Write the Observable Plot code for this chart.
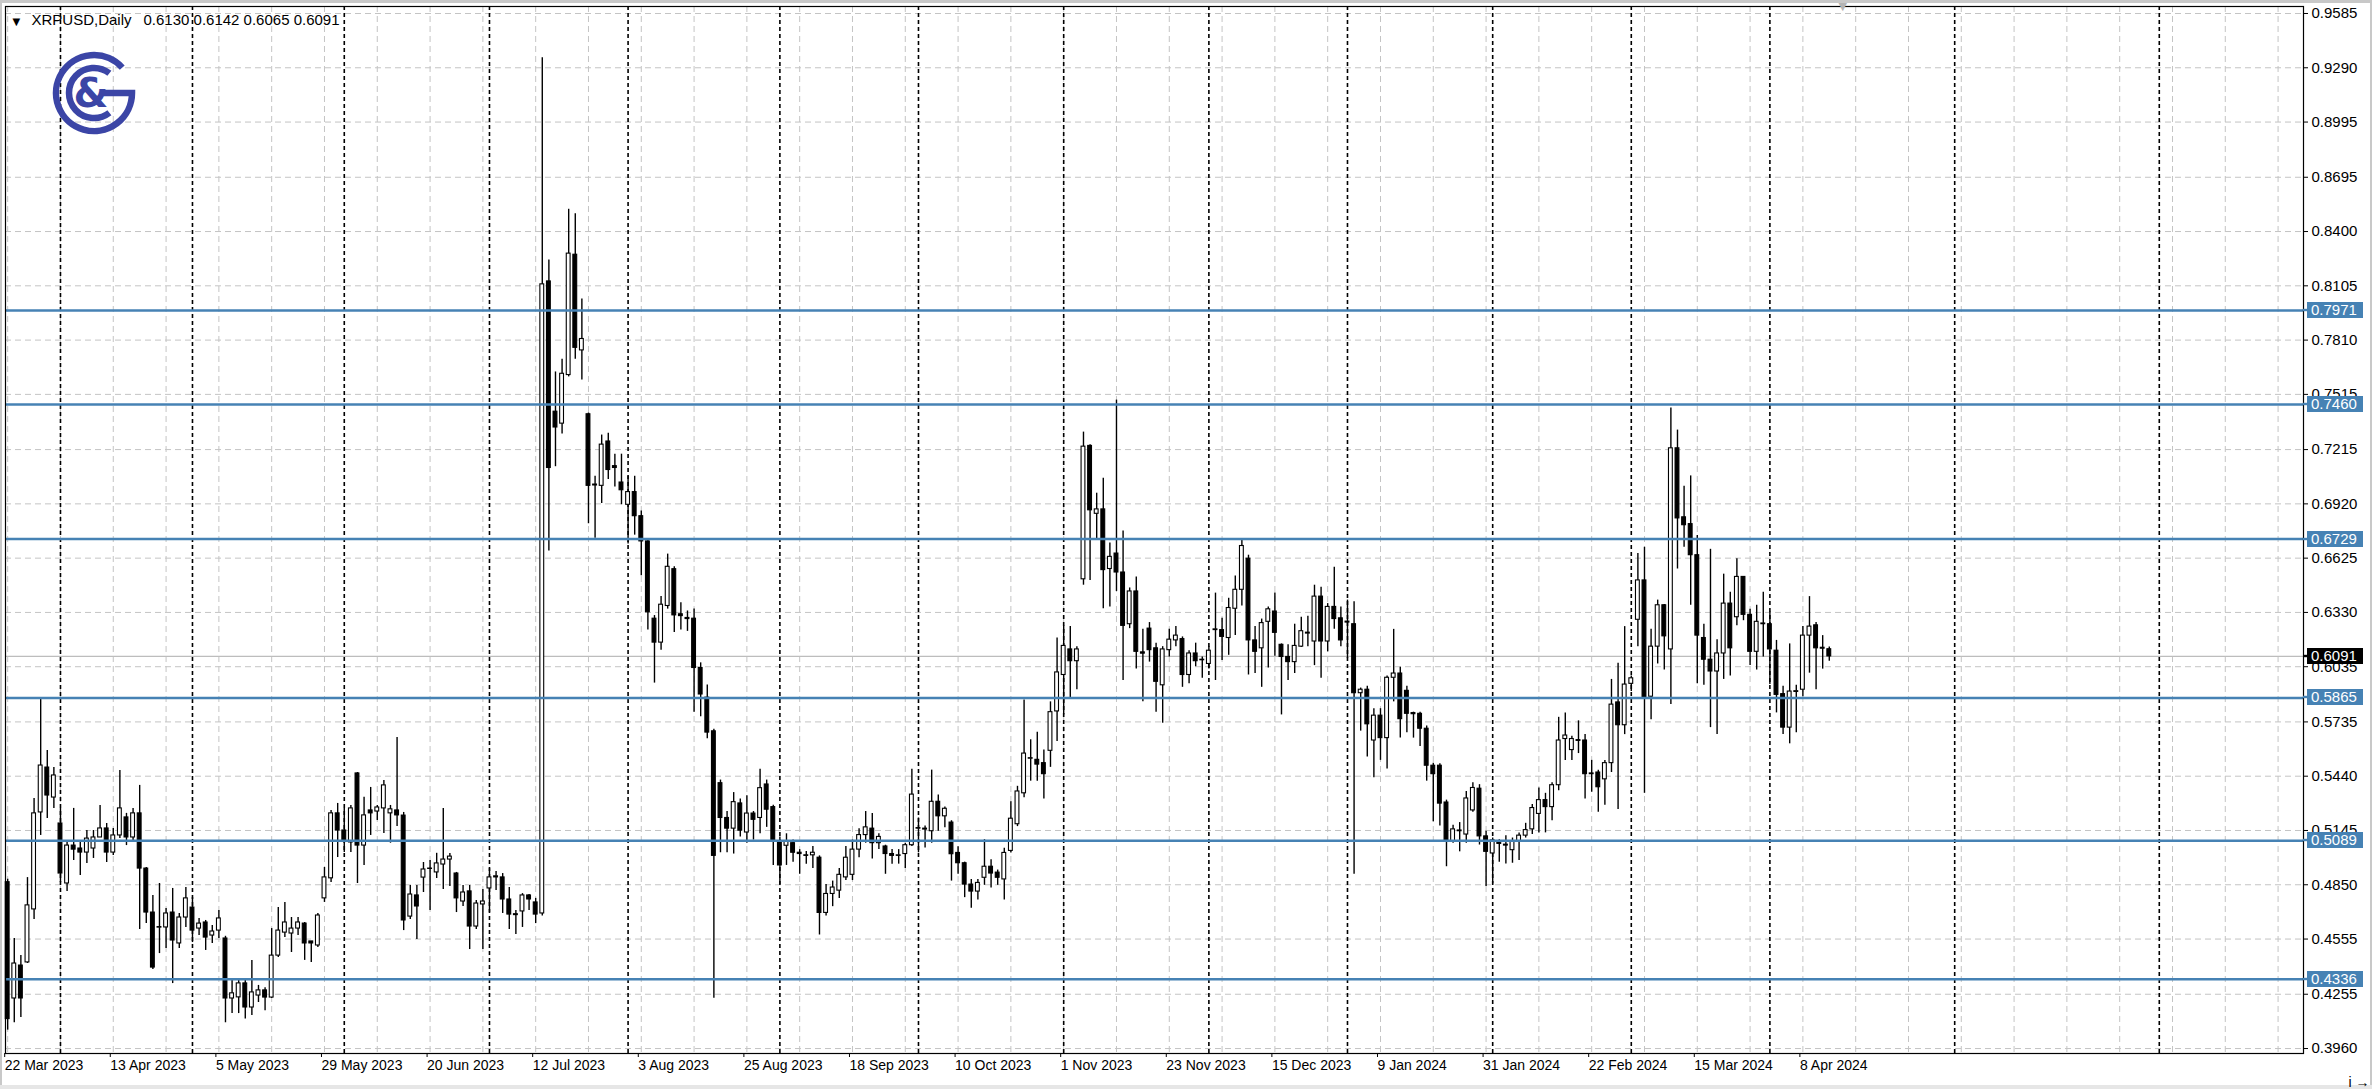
<!DOCTYPE html>
<html>
<head>
<meta charset="utf-8">
<script src="https://cdn.jsdelivr.net/npm/d3@7"></script>
<script src="https://cdn.jsdelivr.net/npm/@observablehq/plot@0.6"></script>
<style>
html, body { margin: 0; padding: 0; background: #fff; overflow: hidden; }
#chart { width: 2372px; height: 1089px; }
</style>
</head>
<body>
<div id="chart"></div>
<script>
// ---- XRPUSD Daily OHLC (bar index 0 = 22 Mar 2023, trading weekdays) ----
const open = [
0.4864,0.4232,0.4411,0.4428,0.4716,0.5243,0.5487,0.5324,0.5183,0.4857,
0.5063,0.5047,0.5025,0.5047,0.5107,0.5156,0.5025,0.5118,0.5216,0.5107,
0.5238,0.4938,0.4699,0.4617,0.4618,0.4699,0.4531,0.4672,0.4726,0.4612,
0.4645,0.4574,0.4601,0.4558,0.4232,0.4238,0.4314,0.4183,0.4248,0.4276,
0.4237,0.4465,0.4590,0.4585,0.4612,0.4639,0.4542,0.4520,0.4776,0.4885,
0.5238,0.5145,0.5080,0.5455,0.5063,0.5254,0.5248,0.5265,0.5238,0.5254,
0.5226,0.4677,0.4792,0.4889,0.4936,0.4917,0.4960,0.4987,0.4911,0.4759,
0.4814,0.4623,0.4743,0.4830,0.4890,0.4890,0.4770,0.4690,0.4705,0.4792,
0.4754,0.4694,0.8129,0.7421,0.7356,0.7620,0.8274,0.7754,0.7407,0.7025,
0.7018,0.7259,0.7125,0.7036,0.6915,0.6984,0.6853,0.6716,0.6296,0.6166,
0.6365,0.6565,0.6320,0.6300,0.6296,0.6028,0.5867,0.5684,0.5402,0.5213,
0.5155,0.5292,0.5134,0.5237,0.5213,0.5395,0.5272,0.5086,0.5062,0.5076,
0.5024,0.5010,0.5010,0.4997,0.4697,0.4800,0.4818,0.4890,0.4904,0.5041,
0.5120,0.5155,0.5076,0.5058,0.5017,0.5007,0.5017,0.5065,0.5155,0.5150,
0.5141,0.5301,0.5222,0.5188,0.5023,0.4967,0.4851,0.4813,0.4888,0.4948,
0.4916,0.4879,0.5034,0.5179,0.5347,0.5535,0.5529,0.5511,0.5578,0.5792,
0.5990,0.6129,0.6065,0.6510,0.7235,0.6866,0.6890,0.6566,0.6650,0.6547,
0.6266,0.6444,0.6113,0.6242,0.6135,0.5934,0.6125,0.6178,0.6185,0.5990,
0.6107,0.6073,0.6050,0.6234,0.6234,0.6191,0.6350,0.6453,0.6622,0.6178,
0.6135,0.6279,0.6335,0.6154,0.6088,0.6060,0.6144,0.6215,0.6172,0.6416,
0.6172,0.6360,0.6298,0.6280,0.6266,0.5891,0.5910,0.5634,0.5769,0.5647,
0.5975,0.5998,0.5904,0.5783,0.5779,0.5698,0.5497,0.5497,0.5297,0.5085,
0.5145,0.5123,0.5254,0.5372,0.5113,0.5020,0.5085,0.5068,0.5038,0.5085,
0.5117,0.5151,0.5235,0.5310,0.5272,0.5391,0.5642,0.5582,0.5636,0.5634,
0.5455,0.5460,0.5423,0.5511,0.5841,0.5717,0.5942,0.6290,0.6504,0.5872,
0.6144,0.6369,0.6129,0.7222,0.6847,0.6810,0.6641,0.6191,0.6073,0.6009,
0.6107,0.6378,0.6304,0.6523,0.6317,0.6116,0.6266,0.6266,0.6122,0.5886,
0.5704,0.5898,0.5910,0.6204,0.6260,0.6138,0.6130];
const high = [
0.4880,0.4558,0.4465,0.4889,0.5319,0.5862,0.5580,0.5487,0.5265,0.5080,
0.5265,0.5090,0.5145,0.5145,0.5281,0.5183,0.5156,0.5471,0.5238,0.5265,
0.5390,0.4944,0.4792,0.4857,0.4721,0.4830,0.4694,0.4835,0.4781,0.4667,
0.4656,0.4628,0.4710,0.4570,0.4340,0.4340,0.4330,0.4439,0.4303,0.4290,
0.4612,0.4727,0.4754,0.4672,0.4672,0.4645,0.4542,0.4694,0.4944,0.5254,
0.5292,0.5265,0.5281,0.5460,0.5325,0.5379,0.5281,0.5417,0.5281,0.5650,
0.5243,0.4846,0.4846,0.4971,0.4982,0.5021,0.5265,0.5020,0.4917,0.4846,
0.4846,0.4764,0.4824,0.4938,0.4922,0.4911,0.4835,0.4710,0.4802,0.4797,
0.4776,0.9345,0.8246,0.7637,0.7706,0.8521,0.8497,0.8033,0.7414,0.7070,
0.7294,0.7304,0.7190,0.7190,0.7070,0.7070,0.6881,0.6726,0.6313,0.6417,
0.6647,0.6578,0.6382,0.6338,0.6348,0.6056,0.5935,0.5695,0.5419,0.5248,
0.5351,0.5316,0.5334,0.5248,0.5478,0.5419,0.5282,0.5110,0.5127,0.5093,
0.5041,0.5031,0.5058,0.5007,0.4852,0.4870,0.4938,0.5058,0.5093,0.5155,
0.5248,0.5237,0.5127,0.5065,0.5041,0.5041,0.5076,0.5478,0.5213,0.5170,
0.5473,0.5338,0.5272,0.5198,0.5057,0.4973,0.4879,0.4879,0.5095,0.4986,
0.4930,0.5048,0.5301,0.5385,0.5854,0.5638,0.5679,0.5582,0.5844,0.6191,
0.6257,0.6253,0.6144,0.7310,0.7241,0.6978,0.7059,0.6707,0.7484,0.6772,
0.6463,0.6523,0.6238,0.6275,0.6163,0.6144,0.6238,0.6253,0.6197,0.6122,
0.6163,0.6088,0.6144,0.6435,0.6298,0.6407,0.6528,0.6721,0.6641,0.6253,
0.6294,0.6360,0.6435,0.6159,0.6154,0.6266,0.6304,0.6309,0.6478,0.6467,
0.6378,0.6575,0.6360,0.6397,0.6388,0.5919,0.5929,0.5807,0.5807,0.5985,
0.6238,0.6032,0.5929,0.5788,0.5788,0.5713,0.5511,0.5507,0.5310,0.5173,
0.5188,0.5357,0.5404,0.5394,0.5141,0.5104,0.5095,0.5117,0.5104,0.5132,
0.5184,0.5286,0.5376,0.5347,0.5404,0.5760,0.5784,0.5657,0.5741,0.5666,
0.5526,0.5473,0.5526,0.5966,0.6054,0.6253,0.5985,0.6650,0.6684,0.6238,
0.6397,0.6373,0.7441,0.7321,0.7016,0.7072,0.6748,0.6266,0.6673,0.6182,
0.6538,0.6440,0.6622,0.6523,0.6347,0.6369,0.6440,0.6332,0.6178,0.5929,
0.6159,0.5934,0.6253,0.6416,0.6275,0.6204,0.6142];
const low = [
0.4060,0.4100,0.4128,0.4422,0.4661,0.5118,0.5210,0.5265,0.4862,0.4813,
0.4982,0.4900,0.4966,0.4993,0.5107,0.4971,0.5009,0.5101,0.5063,0.5090,
0.4607,0.4639,0.4389,0.4476,0.4504,0.4313,0.4504,0.4618,0.4536,0.4574,
0.4493,0.4531,0.4558,0.4100,0.4150,0.4150,0.4120,0.4140,0.4210,0.4166,
0.4232,0.4455,0.4563,0.4482,0.4574,0.4439,0.4428,0.4509,0.4754,0.4862,
0.4998,0.5025,0.5025,0.4857,0.4955,0.5118,0.5199,0.5128,0.5076,0.5167,
0.4601,0.4661,0.4552,0.4808,0.4710,0.4884,0.4824,0.4840,0.4699,0.4732,
0.4498,0.4607,0.4498,0.4699,0.4819,0.4694,0.4607,0.4580,0.4618,0.4710,
0.4639,0.4680,0.6664,0.7122,0.7300,0.7610,0.7706,0.7593,0.6812,0.6733,
0.6922,0.7053,0.7012,0.6915,0.6702,0.6750,0.6530,0.6234,0.5946,0.6124,
0.6348,0.6221,0.6234,0.6227,0.5787,0.5763,0.5643,0.4233,0.5024,0.5024,
0.5017,0.5110,0.5076,0.5093,0.5127,0.5162,0.4955,0.4852,0.4955,0.4972,
0.4907,0.4962,0.4938,0.4577,0.4680,0.4731,0.4776,0.4873,0.4873,0.4997,
0.5076,0.4990,0.5041,0.4907,0.4962,0.4962,0.4938,0.5058,0.5024,0.5050,
0.5076,0.5141,0.5160,0.4870,0.4907,0.4780,0.4723,0.4767,0.4847,0.4832,
0.4847,0.4767,0.5023,0.5166,0.5323,0.5413,0.5413,0.5316,0.5488,0.5629,
0.5773,0.5859,0.5910,0.6478,0.6504,0.6721,0.6350,0.6360,0.6444,0.5960,
0.6242,0.6022,0.5844,0.6060,0.5788,0.5728,0.6088,0.6144,0.5923,0.5942,
0.6035,0.5972,0.6022,0.5960,0.6069,0.6097,0.6204,0.6365,0.5990,0.5998,
0.5923,0.6028,0.6092,0.5773,0.5960,0.5998,0.6140,0.6144,0.6041,0.5972,
0.6116,0.6238,0.6144,0.6079,0.4907,0.5685,0.5544,0.5432,0.5526,0.5479,
0.5844,0.5647,0.5676,0.5647,0.5601,0.5413,0.5192,0.5169,0.4948,0.5076,
0.5029,0.5076,0.5244,0.5066,0.4841,0.4855,0.4973,0.4963,0.4967,0.4982,
0.5104,0.5123,0.5132,0.5132,0.5198,0.5361,0.5526,0.5526,0.5563,0.5316,
0.5353,0.5244,0.5282,0.5460,0.5259,0.5666,0.5900,0.6144,0.5347,0.5747,
0.6050,0.6017,0.5829,0.6566,0.6684,0.6369,0.5942,0.5934,0.5704,0.5666,
0.5966,0.5985,0.6257,0.6285,0.6041,0.6017,0.6088,0.5938,0.5784,0.5666,
0.5616,0.5676,0.5872,0.6000,0.5910,0.6022,0.6065];
const close = [
0.4120,0.4422,0.4232,0.4738,0.5238,0.5498,0.5335,0.5444,0.4911,0.5063,
0.5041,0.5025,0.5101,0.5107,0.5156,0.5025,0.5118,0.5265,0.5107,0.5238,
0.4938,0.4699,0.4400,0.4620,0.4694,0.4547,0.4672,0.4776,0.4601,0.4639,
0.4563,0.4596,0.4667,0.4232,0.4260,0.4314,0.4183,0.4265,0.4276,0.4237,
0.4465,0.4601,0.4645,0.4612,0.4645,0.4531,0.4531,0.4683,0.4890,0.5238,
0.5145,0.5090,0.5265,0.5063,0.5227,0.5238,0.5270,0.5390,0.5260,0.5227,
0.4656,0.4797,0.4732,0.4933,0.4938,0.4966,0.4987,0.5003,0.4776,0.4808,
0.4623,0.4748,0.4759,0.4890,0.4896,0.4770,0.4688,0.4685,0.4792,0.4770,
0.4688,0.8113,0.7115,0.7335,0.7627,0.8280,0.7768,0.7816,0.7018,0.7020,
0.7242,0.7104,0.7115,0.6994,0.6984,0.6853,0.6716,0.6331,0.6166,0.6372,
0.6578,0.6314,0.6310,0.6294,0.6028,0.5884,0.5677,0.5007,0.5213,0.5155,
0.5299,0.5144,0.5237,0.5203,0.5375,0.5258,0.5093,0.4955,0.5086,0.5024,
0.5017,0.5007,0.5024,0.4697,0.4800,0.4835,0.4904,0.4997,0.5041,0.5120,
0.5162,0.5076,0.5110,0.5017,0.5007,0.5010,0.5065,0.5340,0.5158,0.5155,
0.5301,0.5222,0.5263,0.5016,0.4967,0.4851,0.4813,0.4860,0.4948,0.4911,
0.4888,0.5023,0.5209,0.5357,0.5563,0.5538,0.5503,0.5451,0.5788,0.6004,
0.6148,0.6065,0.6129,0.7231,0.6885,0.6890,0.6560,0.6632,0.6547,0.6257,
0.6444,0.6116,0.6106,0.6125,0.5953,0.6129,0.6182,0.6204,0.5990,0.6107,
0.6065,0.6070,0.6122,0.6238,0.6197,0.6354,0.6453,0.6691,0.6178,0.6116,
0.6272,0.6347,0.6219,0.6088,0.6060,0.6148,0.6228,0.6220,0.6416,0.6172,
0.6360,0.6294,0.6178,0.6275,0.5891,0.5910,0.5722,0.5769,0.5647,0.5975,
0.5998,0.5750,0.5779,0.5777,0.5698,0.5497,0.5451,0.5291,0.5085,0.5151,
0.5141,0.5319,0.5376,0.5113,0.5029,0.5091,0.5072,0.5063,0.5085,0.5117,
0.5147,0.5267,0.5310,0.5272,0.5391,0.5634,0.5661,0.5642,0.5632,0.5451,
0.5451,0.5380,0.5511,0.5829,0.5717,0.5938,0.5972,0.6504,0.5867,0.6144,
0.6369,0.6200,0.7222,0.6841,0.6804,0.6641,0.6204,0.6073,0.6009,0.6107,
0.6378,0.6135,0.6523,0.6317,0.6116,0.6279,0.6270,0.6129,0.5882,0.5704,
0.5900,0.5902,0.6204,0.6253,0.6135,0.6133,0.6091];

// ---- axes / annotations ----
const xTickIdx = [0,16,32,48,64,80,96,112,128,144,160,176,192,208,224,240,256,272];
const xTickLabels = ["22 Mar 2023","13 Apr 2023","5 May 2023","29 May 2023","20 Jun 2023","12 Jul 2023",
  "3 Aug 2023","25 Aug 2023","18 Sep 2023","10 Oct 2023","1 Nov 2023","23 Nov 2023","15 Dec 2023",
  "9 Jan 2024","31 Jan 2024","22 Feb 2024","15 Mar 2024","8 Apr 2024"];
const yTicks = [0.9585,0.9290,0.8995,0.8695,0.8400,0.8105,0.7810,0.7515,0.7215,0.6920,
  0.6625,0.6330,0.6035,0.5735,0.5440,0.5145,0.4850,0.4555,0.4255,0.3960];
const levels = [0.7971,0.7460,0.6729,0.5865,0.5089,0.4336];
const lastPrice = [0.6091];
const monthStartIdx = [8,28,51,73,94,117,138,160,182,203,225,246,267,295,326];
const gridEvery = 8;
const symbolName = "XRPUSD,Daily";
const ohlcText = "0.6130 0.6142 0.6065 0.6091";

const bars = open.map((o, i) => ({i, o, h: high[i], l: low[i], c: close[i]}));
const upBars = bars.filter(d => d.c >= d.o);
const downBars = bars.filter(d => d.c < d.o);
const gridIdx = d3.range(0, 348, gridEvery);
const labelOf = new Map(xTickIdx.map((d, k) => [d, xTickLabels[k]]));

const FONT = "Tahoma, 'Liberation Sans', Arial, sans-serif";
const BLUE = "#4682b4";

function valueBoxes(vals, color) {
  return (index, scales, values, dimensions) => {
    const g = d3.create("svg:g");
    const x0 = dimensions.width - dimensions.marginRight;
    for (const v of vals) {
      const y = Math.round(scales.y(v));
      g.append("line").attr("x1", x0).attr("x2", x0 + 4).attr("y1", y).attr("y2", y)
        .attr("stroke", color).attr("stroke-width", 2.4);
      g.append("rect").attr("x", x0 + 4).attr("y", y - 8).attr("width", 56).attr("height", 16).attr("fill", color);
      g.append("text").attr("x", x0 + 8).attr("y", y).attr("dy", "0.36em").attr("fill", "#fff")
        .attr("text-anchor", "start")
        .attr("font-size", 15).attr("font-family", FONT).text(v.toFixed(4));
    }
    return g.node();
  };
}

function logo() {
  return () => {
    const g = d3.create("svg:g");
    const col = "#3b45a6";
    const cx = 94, cy = 93;
    const arc = (r, a0, a1) => {
      const p0 = [cx + r * Math.cos(a0), cy + r * Math.sin(a0)];
      const p1 = [cx + r * Math.cos(a1), cy + r * Math.sin(a1)];
      return `M${p0[0]},${p0[1]} A${r},${r} 0 1 0 ${p1[0]},${p1[1]}`;
    };
    const d2r = Math.PI / 180;
    g.append("path").attr("d", arc(38, -42 * d2r, 0) + ` L${cx + 8},${cy}`)
      .attr("fill", "none").attr("stroke", col).attr("stroke-width", 6.5);
    g.append("path").attr("d", arc(25, -52 * d2r, 52 * d2r))
      .attr("fill", "none").attr("stroke", col).attr("stroke-width", 6.5);
    g.append("text").attr("x", cx - 3).attr("y", cy + 14).attr("text-anchor", "middle")
      .attr("font-family", "DejaVu Sans, sans-serif").attr("font-weight", "bold")
      .attr("font-size", 40).attr("fill", col).text("&");
    return g.node();
  };
}

function windowFrame() {
  return (index, scales, values, dimensions) => {
    const g = d3.create("svg:g");
    const W = dimensions.width, H = dimensions.height;
    g.append("rect").attr("x", 0).attr("y", 0).attr("width", W).attr("height", 3).attr("fill", "#c8c8c8");
    g.append("rect").attr("x", 0).attr("y", 0).attr("width", 2).attr("height", H).attr("fill", "#c8c8c8");
    g.append("rect").attr("x", W - 2).attr("y", 0).attr("width", 2).attr("height", H).attr("fill", "#c8c8c8");
    g.append("rect").attr("x", 0).attr("y", H - 4).attr("width", W).attr("height", 4).attr("fill", "#e6e6e6");
    return g.node();
  };
}

const chart = Plot.plot({
  width: 2372,
  height: 1089,
  marginLeft: 5,
  marginRight: 69,
  marginTop: 6,
  marginBottom: 36,
  x: {type: "linear", domain: [-0.33, 347.85], axis: null},
  y: {type: "linear", domain: [0.3933, 0.9623], axis: null},
  style: {fontFamily: FONT, fontSize: "15px", color: "#000", background: "#fff", overflow: "visible"},
  marks: [
    windowFrame(),
    Plot.ruleX(gridIdx, {x: d => d, stroke: "#c4c4c4", strokeDasharray: "6,4", strokeWidth: 1}),
    Plot.ruleY(yTicks, {y: d => d, stroke: "#c4c4c4", strokeDasharray: "6,4", strokeWidth: 1}),
    Plot.ruleX(monthStartIdx, {x: d => d, stroke: "#000", strokeDasharray: "4,3", strokeWidth: 1.6}),
    Plot.ruleY(lastPrice, {y: d => d, stroke: "#bdbdbd", strokeWidth: 1.2}),
    Plot.ruleX(bars, {x: "i", y1: "l", y2: "h", stroke: "#000", strokeWidth: 1.4}),
    Plot.rect(upBars, {x1: d => d.i - 0.29, x2: d => d.i + 0.29, y1: "o", y2: "c", fill: "#fff", stroke: "#000", strokeWidth: 1.1}),
    Plot.rect(downBars, {x1: d => d.i - 0.29, x2: d => d.i + 0.29, y1: "o", y2: "c", fill: "#000", stroke: "#000", strokeWidth: 1.1}),
    Plot.ruleY(levels, {y: d => d, stroke: BLUE, strokeWidth: 2.5}),
    Plot.frame({stroke: "#000", strokeWidth: 1.2}),
    Plot.axisY(yTicks, {anchor: "right", tickSize: 4, tickPadding: 4, tickFormat: d => d.toFixed(4), fontSize: 15, stroke: "#000"}),
    Plot.axisX(xTickIdx, {anchor: "bottom", tickSize: 4, tickPadding: 3, tickFormat: d => labelOf.get(d),
      textAnchor: "start", dx: -3, fontSize: 14, stroke: "#000"}),
    valueBoxes(levels, BLUE),
    valueBoxes(lastPrice, "#000"),
    Plot.text([symbolName], {frameAnchor: "top-left", dx: 26, dy: 8, lineAnchor: "top", textAnchor: "start", fontSize: 15, fill: "#000"}),
    Plot.text([ohlcText], {frameAnchor: "top-left", dx: 138, dy: 8, lineAnchor: "top", textAnchor: "start", fontSize: 15, fill: "#000"}),
    Plot.text(["\u25BC"], {frameAnchor: "top-left", dx: 7, dy: 11, lineAnchor: "top", textAnchor: "start", fontSize: 10, fill: "#000", fontFamily: "DejaVu Sans, sans-serif"}),
    Plot.text(["\u25BC"], {frameAnchor: "top-left", dx: 1833, dy: -4, lineAnchor: "top", textAnchor: "start", fontSize: 11, fill: "#b4b4b4", fontFamily: "DejaVu Sans, sans-serif"}),
    logo()
  ]
});
document.getElementById("chart").appendChild(chart);
</script>
</body>
</html>
